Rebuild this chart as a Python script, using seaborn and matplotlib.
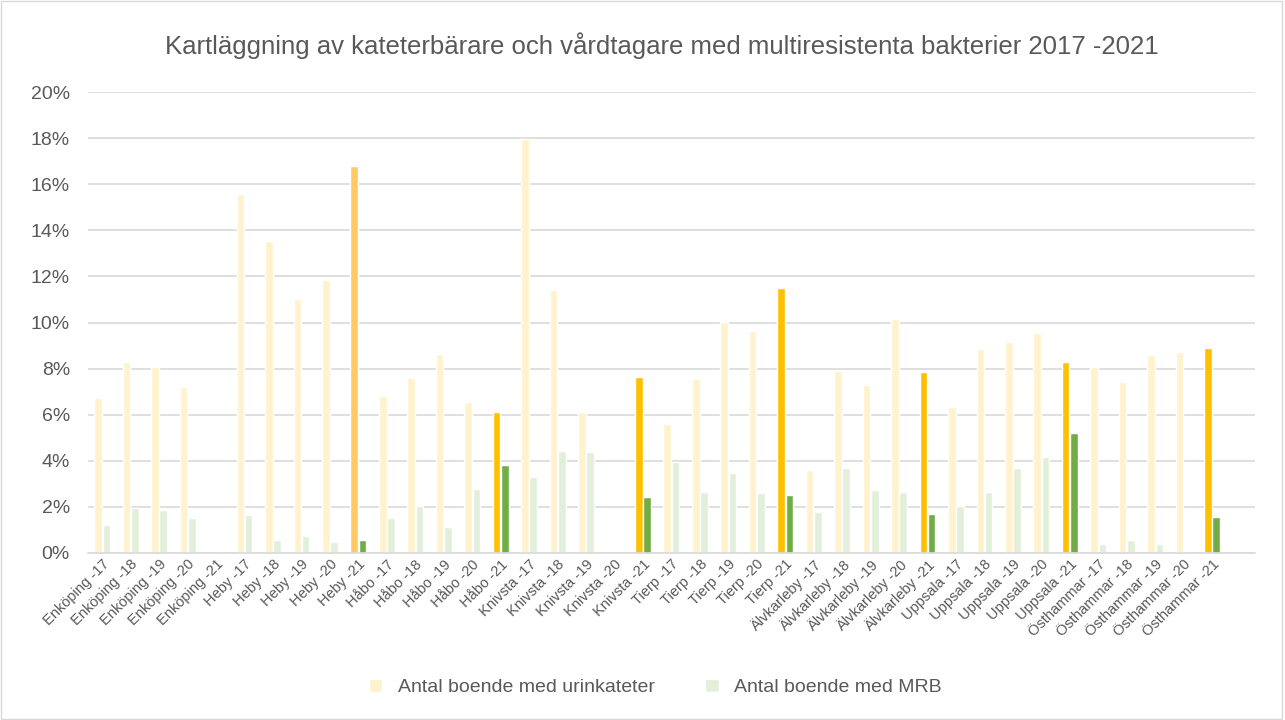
import seaborn as sns
import matplotlib.pyplot as plt
import pandas as pd
from matplotlib.patches import Patch, Rectangle

kommuner = ['Enköping', 'Heby', 'Håbo', 'Knivsta', 'Tierp', 'Älvkarleby', 'Uppsala', 'Östhammar']
ar = ['-17', '-18', '-19', '-20', '-21']
kategorier = [k + ' ' + a for k in kommuner for a in ar]

# andel boende med urinkateter (%)
urinkateter = [6.72, 8.28, 8.07, 7.20, 0.0,
               15.58, 13.54, 11.02, 11.85, 16.80,
               6.81, 7.59, 8.63, 6.55, 6.11,
               17.96, 11.41, 6.11, 0.0, 7.63,
               5.59, 7.55, 10.02, 9.63, 11.50,
               3.59, 7.89, 7.28, 10.15, 7.85,
               6.33, 8.85, 9.15, 9.54, 8.28,
               8.07, 7.41, 8.59, 8.72, 8.89]
# andel boende med MRB (%)
mrb = [1.20, 1.93, 1.85, 1.51, 0.0,
       1.64, 0.55, 0.72, 0.46, 0.55,
       1.51, 2.03, 1.12, 2.77, 3.81,
       3.29, 4.42, 4.37, 0.0, 2.42,
       3.94, 2.64, 3.46, 2.59, 2.51,
       1.77, 3.68, 2.72, 2.64, 1.68,
       2.03, 2.64, 3.68, 4.16, 5.20,
       0.38, 0.55, 0.38, 0.0, 1.55]

serie1 = 'Antal boende med urinkateter'
serie2 = 'Antal boende med MRB'

df = pd.DataFrame({
    'kategori': kategorier * 2,
    'andel': [v / 100 for v in urinkateter] + [v / 100 for v in mrb],
    'serie': [serie1] * len(kategorier) + [serie2] * len(kategorier),
})

ljusgul = '#FFF2CC'
ljusgron = '#E2EFDA'
gul = '#FFC000'
gron = '#70AD47'
orange = '#FFCA66'
gra = '#595959'

sns.set_style('white')
plt.rcParams['font.family'] = ['Liberation Sans', 'DejaVu Sans']

fig = plt.figure(figsize=(12.85, 7.2), dpi=100)
ax = fig.add_axes([0.0685, 0.232, 0.908, 0.64])

sns.barplot(data=df, x='kategori', y='andel', hue='serie', order=kategorier,
            palette=[ljusgul, ljusgron], width=0.58, gap=0.08, ax=ax,
            legend=False, saturation=1)

# markera 2021 i starkare färger
for i, kat in enumerate(kategorier):
    if kat.endswith('-21'):
        ax.containers[0][i].set_facecolor(orange if kat.startswith('Heby') else gul)
        ax.containers[1][i].set_facecolor(gron)

ax.set_xlim(-0.5, 40.5)
ax.set_ylim(0, 0.2)
ax.set_yticks([i / 50 for i in range(11)])
ax.set_yticklabels([f'{i * 2}%' for i in range(11)], fontsize=14, color=gra)
ax.yaxis.grid(True, color='#D9D9D9', linewidth=1.2)
ax.set_axisbelow(True)
ax.tick_params(axis='y', length=0, pad=13)
ax.tick_params(axis='x', length=0, pad=3)
ax.set_xticks(range(len(kategorier)))
ax.set_xticklabels(kategorier, rotation=45, ha='right', rotation_mode='anchor',
                   fontsize=10.5, color=gra)
ax.set_xlabel('')
ax.set_ylabel('')
for s in ['top', 'right', 'left']:
    ax.spines[s].set_visible(False)
ax.spines['bottom'].set_color('#D9D9D9')
ax.spines['bottom'].set_linewidth(1.2)

fig.text(0.515, 0.937, 'Kartläggning av kateterbärare och vårdtagare med multiresistenta bakterier 2017 -2021',
         ha='center', va='center', fontsize=18.5, color=gra)

handles = [Patch(facecolor=ljusgul, label=serie1), Patch(facecolor=ljusgron, label=serie2)]
fig.legend(handles=handles, loc='center', bbox_to_anchor=(0.51, 0.045), ncol=2, frameon=False,
           fontsize=14, labelcolor=gra, handlelength=0.7, handleheight=0.7, columnspacing=2.6)

fig.patches.append(Rectangle((0.001, 0.001), 0.997, 0.997, transform=fig.transFigure,
                             fill=False, edgecolor='#D9D9D9', linewidth=1))

fig.savefig('out.png', dpi=100)
